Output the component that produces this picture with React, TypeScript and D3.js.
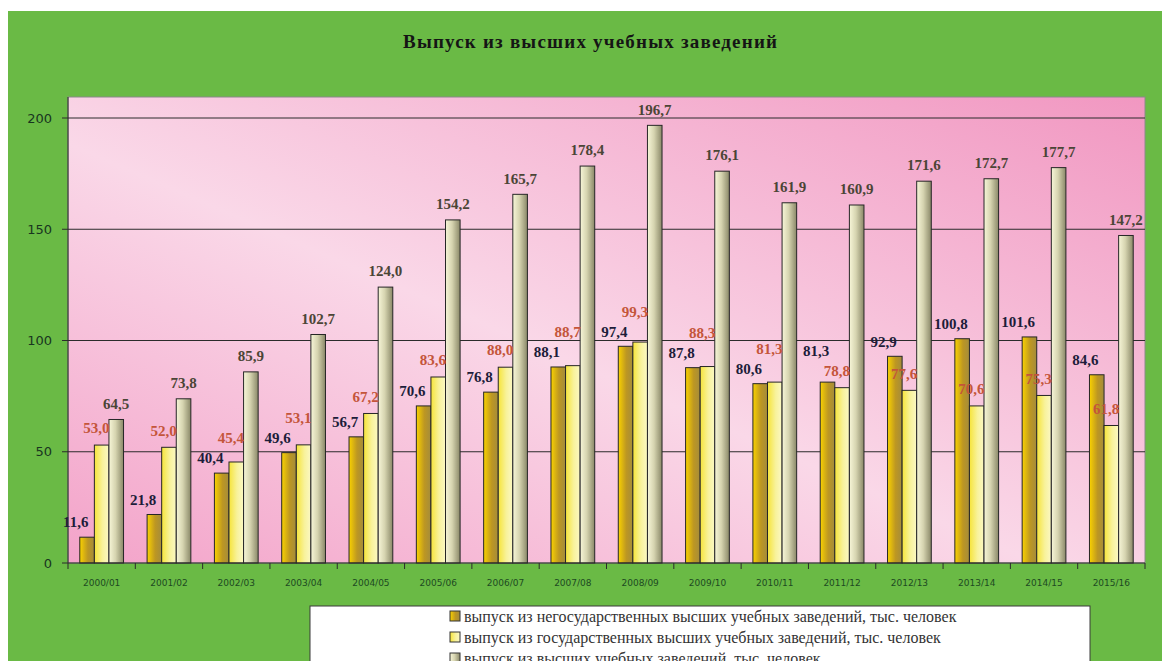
import React from 'react';
import * as d3 from 'd3';

// Data
const categories = ['2000/01', '2001/02', '2002/03', '2003/04', '2004/05', '2005/06', '2006/07', '2007/08',
  '2008/09', '2009/10', '2010/11', '2011/12', '2012/13', '2013/14', '2014/15', '2015/16'];
const nonStateValues = [11.6, 21.8, 40.4, 49.6, 56.7, 70.6, 76.8, 88.1, 97.4, 87.8, 80.6, 81.3, 92.9, 100.8, 101.6, 84.6];
const stateValues = [53.0, 52.0, 45.4, 53.1, 67.2, 83.6, 88.0, 88.7, 99.3, 88.3, 81.3, 78.8, 77.6, 70.6, 75.3, 61.8];
const totalValues = [64.5, 73.8, 85.9, 102.7, 124.0, 154.2, 165.7, 178.4, 196.7, 176.1, 161.9, 160.9, 171.6, 172.7, 177.7, 147.2];
const seriesNames = [
  'выпуск из негосударственных высших учебных заведений, тыс. человек',
  'выпуск из государственных высших учебных заведений, тыс. человек',
  'выпуск из высших учебных заведений, тыс. человек',
];
const yTicks = [0, 50, 100, 150, 200];
const title = 'Выпуск из высших учебных заведений';

const W = 1162;
const H = 661;
const plot = { left: 68, right: 1145, top: 97, bottom: 563 };

const serif = '"Liberation Serif", "DejaVu Serif", serif';
const sans = '"DejaVu Sans", Verdana, sans-serif';
const fmt = (v: number) => v.toFixed(1).replace('.', ',');
// rough width of a bold 15px label
const labelWidth = (s: string) => (s.length - 1) * 7.5 + 3.75;

const App = () => {
  const series = [nonStateValues, stateValues, totalValues];
  const keys = ['s0', 's1', 's2'];

  const x0 = d3.scaleBand<string>().domain(categories).range([plot.left, plot.right]);
  const bw = x0.bandwidth();
  const x1 = d3.scaleBand<string>().domain(keys).range([bw * 0.175, bw * 0.825]);
  const y = d3.scaleLinear().domain([0, 200]).range([plot.bottom, 118]);

  const fills = ['url(#gNon)', 'url(#gState)', 'url(#gTotal)'];
  const labelColors = ['#1d1d3a', '#c4553a', '#4b4536'];

  // label positions: first two series sit a little left, then nudged apart if they collide
  const labels = categories.map((c, i) => {
    const gx = x0(c) as number;
    const pos = series.map((vals, k) => {
      const bx = gx + (x1(keys[k]) as number);
      const text = fmt(vals[i]);
      const cx = k === 0 ? bx - 4 : k === 1 ? bx + 2 : bx + x1.bandwidth() / 2;
      const cy = y(vals[i]) - [15, 17, 16][k];
      return { text, cx, cy, w: labelWidth(text) };
    });
    const a = pos[0];
    const b = pos[1];
    const overlapX = Math.abs(a.cx - b.cx) < (a.w + b.w) / 2;
    const overlapY = Math.abs(a.cy - b.cy) < 15;
    if (overlapX && overlapY) {
      if (nonStateValues[i] > stateValues[i]) a.cy = b.cy - 20;
      else b.cy = a.cy - 20;
    }
    return pos;
  });

  const boundaries = categories.map(c => x0(c) as number).concat([plot.right]);

  return (
    <svg width={W} height={H} style={{ position: 'fixed', left: 0, top: 0 }}>
      <defs>
        <linearGradient id="bgPlot" x1="0" y1="1" x2="1" y2="0">
          <stop offset="0%" stopColor="#f3a3c9" />
          <stop offset="45%" stopColor="#fad8e8" />
          <stop offset="100%" stopColor="#f197c1" />
        </linearGradient>
        <linearGradient id="gNon" x1="0" y1="0" x2="1" y2="0">
          <stop offset="0%" stopColor="#fad200" />
          <stop offset="55%" stopColor="#bd9722" />
          <stop offset="100%" stopColor="#a48c3c" />
        </linearGradient>
        <linearGradient id="gState" x1="0" y1="0" x2="1" y2="0">
          <stop offset="0%" stopColor="#f6e43a" />
          <stop offset="55%" stopColor="#f8f29a" />
          <stop offset="100%" stopColor="#fbf8c4" />
        </linearGradient>
        <linearGradient id="gTotal" x1="0" y1="0" x2="1" y2="0">
          <stop offset="0%" stopColor="#f7f6d8" />
          <stop offset="45%" stopColor="#d6d4b0" />
          <stop offset="100%" stopColor="#8a8868" />
        </linearGradient>
      </defs>

      <rect x={0} y={0} width={W} height={H} fill="#ffffff" />
      <rect x={8} y={11} width={W - 8} height={H - 11} fill="#6aba45" />

      <text x={590} y={48} textAnchor="middle" fontFamily={serif} fontWeight="bold" fontSize={19}
        fill="#151515" textLength={374} lengthAdjust="spacing">{title}</text>

      {/* plot area */}
      <rect x={plot.left} y={plot.top} width={plot.right - plot.left} height={plot.bottom - plot.top}
        fill="url(#bgPlot)" stroke="#8a8a8a" strokeWidth={1} />

      {yTicks.filter(t => t > 0).map(t => (
        <line key={t} x1={plot.left} x2={plot.right} y1={y(t)} y2={y(t)} stroke="#2b2b2b" strokeWidth={1} />
      ))}

      {/* bars */}
      {categories.map((c, i) => (
        <g key={c} transform={`translate(${x0(c)},0)`}>
          {series.map((vals, k) => (
            <rect key={k} x={x1(keys[k])} y={y(vals[i])} width={x1.bandwidth()}
              height={y(0) - y(vals[i])} fill={fills[k]} stroke="#262626" strokeWidth={1} />
          ))}
        </g>
      ))}

      {/* data labels */}
      {labels.map((pos, i) => (
        <g key={'l' + i}>
          {pos.map((p, k) => (
            <text key={k} x={p.cx} y={p.cy} dy="0.35em" textAnchor="middle"
              fontFamily={serif} fontWeight="bold" fontSize={15} fill={labelColors[k]}>
              {p.text}
            </text>
          ))}
        </g>
      ))}

      {/* axes */}
      <line x1={plot.left} x2={plot.left} y1={plot.top} y2={plot.bottom} stroke="#2b2b2b" />
      <line x1={plot.left} x2={plot.right} y1={plot.bottom} y2={plot.bottom} stroke="#2b2b2b" />
      {yTicks.map(t => (
        <g key={'y' + t}>
          <line x1={plot.left - 6} x2={plot.left} y1={y(t)} y2={y(t)} stroke="#2b2b2b" />
          <text x={52} y={y(t)} dy="0.35em" textAnchor="end" fontFamily={sans} fontSize={13} fill="#183520">{t}</text>
        </g>
      ))}
      {boundaries.map((bx, i) => (
        <line key={'xt' + i} x1={bx} x2={bx} y1={plot.bottom} y2={plot.bottom + 6} stroke="#2b2b2b" />
      ))}
      {categories.map(c => (
        <text key={'xl' + c} x={(x0(c) as number) + bw / 2} y={586} textAnchor="middle" fontFamily={sans}
          fontSize={9} fill="#1d4a22">{c}</text>
      ))}

      {/* legend (runs past the bottom edge, as in the original) */}
      <rect x={310} y={606} width={780} height={70} fill="#ffffff" stroke="#3a3a3a" strokeWidth={1} />
      {seriesNames.map((name, k) => {
        const ry = 616 + k * 21;
        return (
          <g key={name}>
            <rect x={450} y={ry - 5} width={10} height={10} fill={fills[k]} stroke="#333" strokeWidth={1} />
            <text x={464} y={ry} dy="0.35em" fontFamily={serif} fontSize={16} fill="#333333">{name}</text>
          </g>
        );
      })}
    </svg>
  );
};

export default App;
